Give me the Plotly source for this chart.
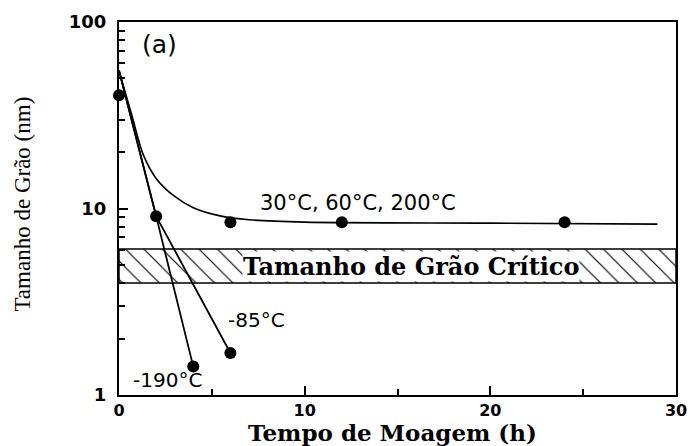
import math
import plotly.graph_objects as go

# Data
curve_x = [0, 0.65, 1.3, 2.0, 3.0, 4.0, 5.5, 7, 10, 20, 29]
curve_y = [54.6, 32.7, 19.5, 14.5, 11.6, 10.1, 9.1, 8.7, 8.45, 8.35, 8.25]

warm_x = [0, 2, 6, 12, 24]
warm_y = [40.5, 9.1, 8.45, 8.45, 8.45]

m190_x = [0, 2, 4]
m190_y = [55, 9.1, 1.42]

m85_x = [0, 2, 6]
m85_y = [55, 9.1, 1.68]

band_low, band_high = 3.98, 6.06
x_range = [0, 30]

fig = go.Figure()

# critical grain size hatched band
fig.add_trace(go.Scatter(
    x=[x_range[0], x_range[1], x_range[1], x_range[0], x_range[0]],
    y=[band_low, band_low, band_high, band_high, band_low],
    mode="lines", fill="toself",
    fillpattern=dict(shape="\\", size=13, solidity=0.09, fgcolor="black",
                     bgcolor="white", fgopacity=1),
    line=dict(color="black", width=1.5), hoverinfo="skip", showlegend=False))

fig.add_trace(go.Scatter(x=curve_x, y=curve_y, mode="lines",
                         line=dict(color="black", width=1.6, shape="spline", smoothing=0.8),
                         showlegend=False))
fig.add_trace(go.Scatter(x=m190_x, y=m190_y, mode="lines",
                         line=dict(color="black", width=1.8), showlegend=False))
fig.add_trace(go.Scatter(x=m85_x, y=m85_y, mode="lines",
                         line=dict(color="black", width=1.8), showlegend=False))
fig.add_trace(go.Scatter(x=[m190_x[-1], m85_x[-1]], y=[m190_y[-1], m85_y[-1]], mode="markers",
                         marker=dict(size=12, color="black", opacity=1), showlegend=False))
fig.add_trace(go.Scatter(x=warm_x, y=warm_y, mode="markers",
                         marker=dict(size=12, color="black", opacity=1), showlegend=False,
                         cliponaxis=False))

sans = "DejaVu Sans"
serif = "DejaVu Serif"

def ly(v):
    return math.log10(v)

annotations = [
    dict(x=0.037, y=0.939, xref="paper", yref="paper", text="(a)", showarrow=False,
         xanchor="left", yanchor="middle", font=dict(family=sans, size=25, color="black")),
    dict(x=12.86, y=ly(10.75), text="30°C, 60°C, 200°C", showarrow=False,
         xanchor="center", yanchor="middle", font=dict(family=sans, size=21, color="black")),
    dict(x=7.4, y=ly(2.54), text="-85°C", showarrow=False,
         xanchor="center", yanchor="middle", font=dict(family=sans, size=20, color="black")),
    dict(x=2.6, y=ly(1.2), text="-190°C", showarrow=False,
         xanchor="center", yanchor="middle", font=dict(family=sans, size=20, color="black")),
    dict(x=15.74, y=ly(4.89), text="<b>Tamanho de Grão Crítico</b>", showarrow=False,
         xanchor="center", yanchor="middle", bgcolor="white", borderpad=0,
         font=dict(family=serif, size=24, color="black")),
    dict(x=0.491, y=-0.1, xref="paper", yref="paper", text="<b>Tempo de Moagem (h)</b>",
         showarrow=False, xanchor="center", yanchor="middle",
         font=dict(family=serif, size=23, color="black")),
    dict(x=-0.1725, y=0.513, xref="paper", yref="paper", text="Tamanho de Grão (nm)",
         showarrow=False, textangle=-90, xanchor="center", yanchor="middle",
         font=dict(family="Liberation Serif", size=23, color="black")),
]

fig.update_layout(
    width=698, height=446,
    margin=dict(l=119, r=11, t=15, b=51),
    paper_bgcolor="white", plot_bgcolor="white",
    annotations=annotations,
)
fig.update_xaxes(range=x_range, tickvals=[0, 10, 20, 30], ticks="inside", ticklen=9,
                 tickwidth=1.5, tickcolor="black", showline=True, linecolor="black",
                 linewidth=2, mirror=True, showgrid=False, zeroline=False,
                 minor=dict(tickvals=[5, 15, 25], ticks="inside", ticklen=6, tickwidth=1.5,
                            tickcolor="black"),
                 tickfont=dict(family=sans, size=16, color="black", weight="bold"))
fig.update_yaxes(type="log", range=[0, 2], tickvals=[1, 10, 100], ticktext=["1", "10", "100"],
                 ticks="inside", ticklen=9, tickwidth=1.5, tickcolor="black", showline=True,
                 linecolor="black", linewidth=2, mirror=True, showgrid=False, zeroline=False,
                 ticklabelstandoff=7,
                 minor=dict(tickvals=[2, 3, 4, 5, 6, 7, 8, 9, 20, 30, 40, 50, 60, 70, 80, 90],
                            ticks="inside", ticklen=6, tickwidth=1.5, tickcolor="black"),
                 tickfont=dict(family=sans, size=18, color="black", weight="bold"))

fig.write_html("out.html", config={"displayModeBar": False},
               post_script="document.body.style.margin='0';")
